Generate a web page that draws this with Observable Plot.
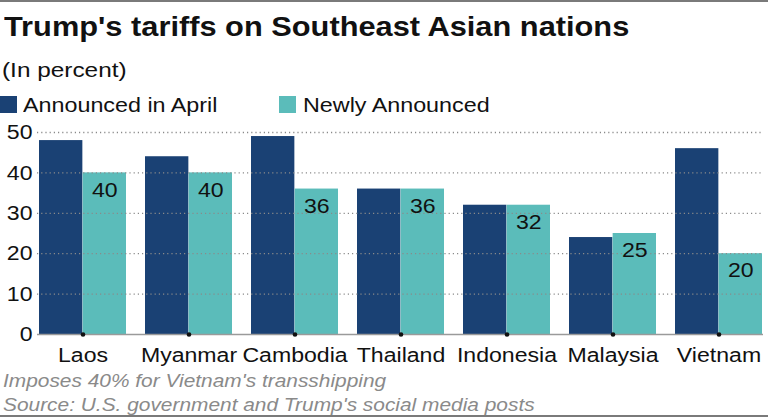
<!DOCTYPE html>
<html>
<head>
<meta charset="utf-8">
<script src="https://cdn.jsdelivr.net/npm/d3@7"></script>
<script src="https://cdn.jsdelivr.net/npm/@observablehq/plot@0.6"></script>
<style>
  html, body { margin: 0; padding: 0; background: #fff; }
  #wrap { position: relative; width: 768px; height: 417px; overflow: hidden; font-family: "Liberation Sans", Arial, sans-serif; color: #111; }
  .abs { position: absolute; white-space: nowrap; }
  .st { transform-origin: left center; }
  #topline { left: 0; top: 0; width: 768px; height: 2px; background: #7a7a7a; }
  #botline { left: 0; top: 415px; width: 768px; height: 2px; background: #7a7a7a; }
  #title { left: 4px; top: 14px; font-size: 27px; line-height: 27px; font-weight: bold; transform: scaleX(1.14); }
  #subtitle { left: 2px; top: 59px; font-size: 21px; line-height: 21px; transform: scaleX(1.16); }
  .leg { top: 94px; font-size: 21px; line-height: 21px; }
  .sw { top: 96px; width: 17px; height: 17px; }
  .legt { transform: scaleX(1.11); }
  #chart { left: 0; top: 120px; }
  .cap { left: 3px; font-size: 18px; line-height: 18px; font-style: italic; color: #8a8a8a; transform: scaleX(1.16); }
</style>
</head>
<body>
<div id="wrap">
  <div class="abs" id="topline"></div>
  <div class="abs st" id="title">Trump's tariffs on Southeast Asian nations</div>
  <div class="abs st" id="subtitle">(In percent)</div>
  <div class="abs sw" id="sw0" style="left:0px"></div>
  <div class="abs leg legt st" id="lt0" style="left:23px"></div>
  <div class="abs sw" id="sw1" style="left:279px"></div>
  <div class="abs leg legt st" id="lt1" style="left:303px"></div>
  <div class="abs" id="chart"></div>
  <div class="abs cap st" style="top:372px">Imposes 40% for Vietnam's transshipping</div>
  <div class="abs cap st" style="top:396px">Source: U.S. government and Trump's social media posts</div>
  <div class="abs" id="botline"></div>
</div>
<script>
const countries = ["Laos", "Myanmar", "Cambodia", "Thailand", "Indonesia", "Malaysia", "Vietnam"];
const april = [48, 44, 49, 36, 32, 24, 46];
const newly = [40, 40, 36, 36, 32, 25, 20];
const series = ["Announced in April", "Newly Announced"];
const colors = ["#1a4174", "#5bbcba"];
const yTicks = [0, 10, 20, 30, 40, 50];

const aprilRows = countries.map((c, i) => ({country: c, series: series[0], value: april[i]}));
const newlyRows = countries.map((c, i) => ({country: c, series: series[1], value: newly[i]}));

series.forEach((s, i) => {
  document.getElementById("sw" + i).style.background = colors[i];
  document.getElementById("lt" + i).textContent = s;
});

const W = 768, ML = 37, MR = 5, PADIN = 0.18;
const half = d3.scaleBand().domain(countries).range([ML, W - MR]).paddingInner(PADIN).paddingOuter(0).bandwidth() / 2;

const chart = Plot.plot({
  width: W,
  height: 276,
  marginTop: 12,
  marginBottom: 62,
  marginLeft: ML,
  marginRight: MR,
  style: {fontFamily: "Liberation Sans, Arial, sans-serif", fontSize: "21px", color: "#111", background: "transparent"},
  x: {domain: countries, paddingInner: PADIN, paddingOuter: 0, label: null, tickSize: 0, tickPadding: 13},
  y: {domain: [0, 50], ticks: yTicks, tickSize: 0, tickPadding: 5, label: null},
  color: {domain: series, range: colors},
  marks: [
    Plot.barY(aprilRows, {x: "country", y: "value", fill: "series", insetRight: half}),
    Plot.barY(newlyRows, {x: "country", y: "value", fill: "series", insetLeft: half}),
    Plot.ruleY(yTicks.slice(1), {stroke: "#8a8a8a", strokeDasharray: "1.2,3", strokeWidth: 1.3}),
    Plot.ruleY([0], {stroke: "#9a9a9a", strokeWidth: 1.5}),
    Plot.text(newlyRows, {x: "country", y: "value", text: "value", dx: half / 2, dy: 17, fontSize: 21, fill: "#111"}),
    Plot.dot(countries, {x: d => d, y: () => 0, r: 2.3, fill: "#111"})
  ]
});
// widen glyphs slightly (around each text's own anchor) to match the reference typeface
chart.querySelectorAll("text").forEach(t => {
  const tr = t.getAttribute("transform");
  if (tr) t.setAttribute("transform", tr + " scale(1.1,1)");
});
document.getElementById("chart").appendChild(chart);
</script>
</body>
</html>
